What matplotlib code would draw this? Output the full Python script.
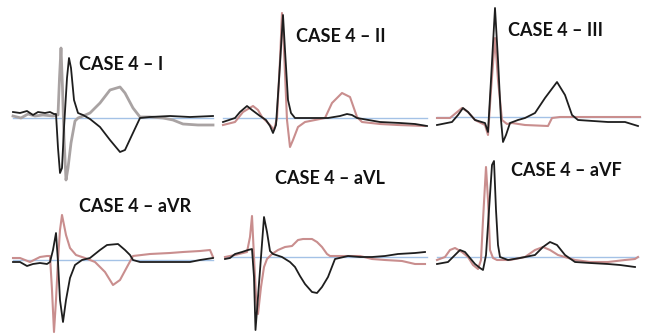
import matplotlib
matplotlib.use("Agg")
import matplotlib.pyplot as plt
import numpy as np

# six leads, each: black = patient trace, ref = comparison trace
# t = sample position (px-like units from lead start), a = amplitude above baseline
leads = ["I", "II", "III", "aVR", "aVL", "aVF"]

I_blk_t = [0, 7, 14, 20, 25, 32, 37, 41, 43, 45, 47, 49, 51, 54, 56, 58, 61, 65, 70, 77, 87, 97, 107, 112, 119, 127, 137, 157, 177, 200]
I_blk_a = [6, 5, 7, 3, 6, 5, 6, 4, 4, -30, -55, -50, -10, 40, 60, 50, 18, 5, 3, -1, -9, -22, -34, -32, -17, 0, 1, 2, 1, 2]
I_ref_t = [0, 8, 15, 22, 30, 40, 44, 45, 46.5, 48, 49.5, 51, 53, 55, 58, 62, 65, 70, 77, 87, 97, 107, 112, 120, 127, 137, 150, 160, 170, 185, 200]
I_ref_a = [2, 0, 4, 2, 3, 2, 3, 3, 40, 70, 30, -20, -62, -50, -25, -3, 0, 2, 5, 15, 28, 31, 25, 10, 1, 1, 0, -2, -6, -7, -7]

II_blk_t = [0, 12, 17, 24, 29, 37, 43, 47, 50, 53, 56, 60, 62, 65, 68, 72, 87, 105, 117, 124, 129, 134, 157, 177, 192, 204]
II_blk_a = [-4, 0, 6, 12, 8, 2, -2, -8, -15, -7, 38, 103, 68, 18, 5, 0, 0, 0, 2, 4, 3, 0, -4, -5, -6, -8]
II_ref_t = [0, 12, 20, 30, 35, 39, 47, 51, 54, 57, 59, 61, 64, 67, 70, 75, 82, 92, 102, 109, 119, 127, 134, 139, 157, 175, 202]
II_ref_a = [-7, -4, 6, 12, 8, 1, -7, -12, 0, 58, 105, 68, -2, -29, -22, -9, -4, -2, 0, 15, 25, 21, 1, -4, -6, -7, -8]

III_blk_t = [0, 15, 21, 26, 31, 38, 48, 51, 54, 58, 61, 64, 66, 69, 73, 81, 88, 98, 108, 120, 128, 135, 141, 171, 188, 201]
III_blk_a = [-8, -5, 2, 9, 5, -3, -6, -15, 37, 109, 57, -3, -25, -18, -6, -3, -1, 4, 19, 35, 22, 2, -3, -5, -5, -9]
III_ref_t = [0, 13, 25, 31, 38, 48, 51, 54, 58, 61, 65, 70, 75, 88, 111, 115, 123, 203]
III_ref_a = [-1, -1, 9, 5, -3, -8, -18, 27, 79, 37, -3, -7, -6, -8, -9, -1, 0, 0]

aVR_blk_t = [0, 7, 14, 20, 27, 34, 37, 40, 43, 45, 47, 50, 53, 57, 62, 69, 77, 87, 94, 105, 112, 117, 120, 127, 157, 177, 187, 200]
aVR_blk_a = [-2, -2, -6, -4, -3, -4, -2, 10, 27, -2, -40, -62, -40, -18, -5, 0, 2, 10, 15, 16, 10, 5, 0, -2, -2, -2, 0, 2]
aVR_ref_t = [0, 7, 17, 27, 34, 37, 39, 41, 43, 45, 47, 49, 53, 57, 63, 72, 82, 92, 100, 107, 114, 120, 137, 157, 170, 187, 197, 200]
aVR_ref_a = [2, 2, -2, 3, 4, 4, -30, -72, -40, 0, 30, 45, 25, 12, 5, 2, -2, -12, -25, -20, -7, 4, 6, 7, 8, 9, 10, 3]

aVL_blk_t = [0, 5, 10, 17, 23, 27, 29, 30.5, 33, 36, 39, 42, 45, 48, 57, 65, 70, 75, 80, 87, 92, 97, 103, 110, 123, 135, 147, 160, 173, 190, 200]
aVL_blk_a = [-2, -1, 3, 5, 7, 8, -20, -73, -40, 0, 40, 25, 6, 3, 0, -5, -10, -19, -27, -35, -36, -30, -20, -2, 1, 0, 0, 1, 3, 4, 5]
aVL_ref_t = [0, 10, 22, 25, 27, 29, 31, 33, 36, 39, 42, 47, 53, 60, 67, 73, 78, 87, 92, 97, 102, 105, 123, 135, 147, 160, 177, 190, 200]
aVL_ref_a = [0, 2, 5, 20, 41, 0, -40, -57, -30, -10, -2, 3, 7, 10, 11, 17, 18, 18, 15, 10, 3, 1, 1, 1, -2, -3, -4, -7, -7]

aVF_blk_t = [0, 11, 18, 23, 28, 33, 38, 43, 46, 49, 52, 55, 57, 59, 61, 63, 71, 83, 98, 106, 113, 120, 128, 138, 153, 171, 183, 198]
aVF_blk_a = [-7, -5, 2, 7, 5, -1, -7, -11, -13, 2, 47, 92, 96, 47, 12, 0, -3, -1, 2, 10, 15, 12, 2, -5, -6, -7, -8, -10]
aVF_ref_t = [0, 8, 13, 18, 25, 31, 36, 41, 44, 46, 49, 51, 53, 56, 60, 73, 88, 98, 106, 113, 121, 138, 153, 171, 188, 198, 201]
aVF_ref_a = [-3, 0, 7, 9, 5, 0, -8, -12, -3, 37, 90, 57, 7, -1, -3, -3, 0, 7, 10, 7, 2, -3, -5, -5, -3, -2, 0]

traces = {
    "I": (I_blk_t, I_blk_a, I_ref_t, I_ref_a),
    "II": (II_blk_t, II_blk_a, II_ref_t, II_ref_a),
    "III": (III_blk_t, III_blk_a, III_ref_t, III_ref_a),
    "aVR": (aVR_blk_t, aVR_blk_a, aVR_ref_t, aVR_ref_a),
    "aVL": (aVL_blk_t, aVL_blk_a, aVL_ref_t, aVL_ref_a),
    "aVF": (aVF_blk_t, aVF_blk_a, aVF_ref_t, aVF_ref_a),
}

# layout: lead start x, baseline y, baseline length, title centre (figure pixels)
layout = {
    "I":   dict(x0=13, y0=118, L=200, tx=121, ty=64),
    "II":  dict(x0=223, y0=118, L=204, tx=341, ty=36),
    "III": dict(x0=437, y0=117, L=203, tx=556, ty=31),
    "aVR": dict(x0=13, y0=260, L=200, tx=135, ty=207),
    "aVL": dict(x0=225, y0=257, L=202, tx=330, ty=178),
    "aVF": dict(x0=437, y0=257, L=201, tx=566, ty=170),
}
ref_color = {"I": "#a9a3a3"}

fig = plt.figure(figsize=(6.45, 3.34), dpi=100)
ax = fig.add_axes([0, 0, 1, 1])
ax.set_xlim(0, 645)
ax.set_ylim(334, 0)
ax.axis("off")

for lead in leads:
    p = layout[lead]
    bt, ba, rt, ra = traces[lead]
    ax.plot([p["x0"], p["x0"] + p["L"]], [p["y0"], p["y0"]], color="#a4c2e6", lw=1.0, zorder=1)
    ax.plot(p["x0"] + np.array(rt), p["y0"] - np.array(ra),
            color=ref_color.get(lead, "#c98e8e"), lw=2.0 if lead == "I" else 1.5, zorder=2,
            solid_joinstyle="round")
    ax.plot(p["x0"] + np.array(bt), p["y0"] - np.array(ba),
            color="#1e1e1e", lw=1.3, zorder=3, solid_joinstyle="round")
    ax.text(p["tx"], p["ty"], "CASE 4 \u2013 " + lead, ha="center", va="center",
            fontsize=13, fontweight="bold", family="Lato", color="#111111")

fig.savefig("out.png", dpi=100)
